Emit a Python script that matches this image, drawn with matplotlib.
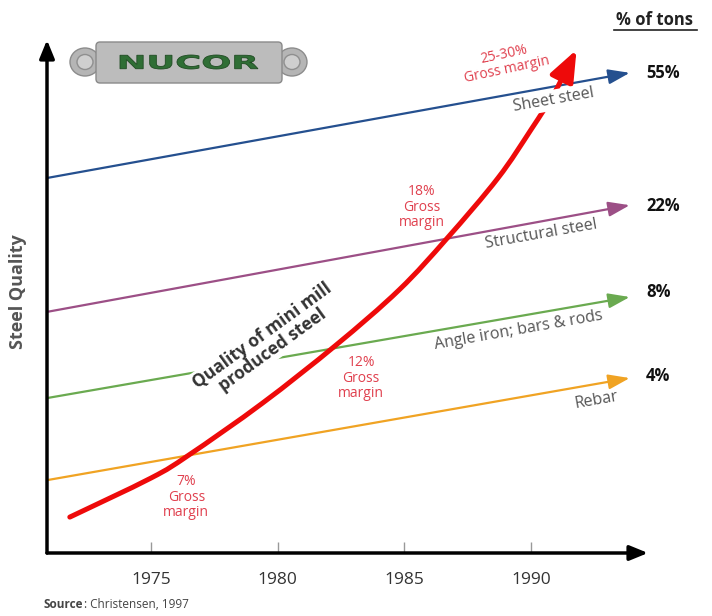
import numpy as np
import matplotlib
matplotlib.use("Agg")
import matplotlib.pyplot as plt
from matplotlib.patches import FancyBboxPatch, Ellipse, PathPatch
from matplotlib.path import Path
from matplotlib.textpath import TextPath
from matplotlib.font_manager import FontProperties
from matplotlib.transforms import Affine2D

plt.rcParams['font.family'] = ['Open Sans', 'DejaVu Sans']

# ---------------------------------------------------------------
# data
# ---------------------------------------------------------------
years = [1975, 1980, 1985, 1990]

segments = ["Sheet steel", "Structural steel", "Angle iron; bars & rods", "Rebar"]
share = ["55%", "22%", "8%", "4%"]
seg_colors = ["#25508f", "#9c4f86", "#6aaa50", "#f0a323"]
# quality of integrated-mill segment at start / end of period
seg_x = [1970.9, 1993.9]
seg_start = [73.1, 47.0, 30.2, 14.2]
seg_end = [93.6, 67.8, 49.9, 34.1]

# mini mill quality trajectory
mini_x = [1971.8, 1975.0, 1976.5, 1979.4, 1982.3, 1984.8, 1986.7, 1988.7, 1990.0, 1991.0, 1991.8]
mini_q = [7.0, 14.6, 19.1, 29.2, 40.5, 51.3, 61.4, 73.1, 82.5, 90.3, 98.1]

margins = ["7%\nGross\nmargin", "12%\nGross\nmargin", "18%\nGross\nmargin", "25-30%\nGross margin"]
margin_pos = [(1976.4, 10.9), (1983.3, 34.1), (1985.7, 67.4), (1989.0, 95.7)]
margin_rot = [0, 0, 0, 12]

seg_label_pos = [(1990.9, 88.3), (1990.4, 62.2), (1989.5, 43.5), (1992.6, 29.8)]


def smooth_path(xs, ys):
    """Catmull-Rom curve through the points, as cubic Bezier segments."""
    pts = np.column_stack([xs, ys])
    ext = np.vstack([pts[0], pts, pts[-1]])
    verts = [pts[0]]
    codes = [Path.MOVETO]
    for i in range(1, len(ext) - 2):
        p0, p1, p2, p3 = ext[i - 1], ext[i], ext[i + 1], ext[i + 2]
        verts += [p1 + (p2 - p0) / 6, p2 - (p3 - p1) / 6, p2]
        codes += [Path.CURVE4] * 3
    return Path(verts, codes)


# ---------------------------------------------------------------
W, H = 712, 616
fig = plt.figure(figsize=(W / 100, H / 100), dpi=100)
ax = fig.add_axes([47 / W, 1 - 553 / H, (648 - 47) / W, (553 - 40) / H])
ax.set_xlim(1970.9, 1994.62)
ax.set_ylim(0, 100)
for s in ax.spines.values():
    s.set_visible(False)
ax.set_yticks([])
ax.set_xticks(years)
ax.set_xticklabels([str(y) for y in years], color="#333333", fontsize=12.5,
                   family=['Liberation Sans Narrow', 'Open Sans'])
ax.tick_params(axis='x', direction='in', length=8, width=1, color="#999999", pad=14)

# axes drawn as arrows
ax.annotate("", xy=(1994.62, 0), xytext=(1970.9, 0), annotation_clip=False,
            arrowprops=dict(arrowstyle="-|>,head_length=1.1,head_width=0.45",
                            color="black", lw=2.5, shrinkA=0, shrinkB=0))
ax.annotate("", xy=(1970.9, 100), xytext=(1970.9, 0), annotation_clip=False,
            arrowprops=dict(arrowstyle="-|>,head_length=1.1,head_width=0.45",
                            color="black", lw=2.5, shrinkA=0, shrinkB=0))

# segment lines
for i in range(4):
    ax.annotate("", xy=(seg_x[1], seg_end[i]), xytext=(seg_x[0], seg_start[i]),
                arrowprops=dict(arrowstyle="-|>,head_length=1.3,head_width=0.45",
                                color=seg_colors[i], lw=1.6, shrinkA=0, shrinkB=0),
                zorder=2)
    ax.text(*seg_label_pos[i], segments[i], color="#555555", fontsize=11.5,
            rotation=10, ha="center", va="center", zorder=5,
            bbox=dict(boxstyle="square,pad=0.15", fc="white", ec="none") if i == 0 else None)

# mini mill curve
curve = smooth_path(mini_x, mini_q)
n_keep = 1 + 3 * (len(mini_x) - 2)
body_path = Path(curve.vertices[:n_keep], curve.codes[:n_keep])
ax.add_patch(PathPatch(body_path, fc="none", ec="#ee0a0a", lw=3.6,
                       capstyle="round", joinstyle="round", zorder=3))
ax.annotate("", xy=(mini_x[-1], mini_q[-1]), xytext=(mini_x[-2], mini_q[-2]),
            arrowprops=dict(arrowstyle="-|>,head_length=1.9,head_width=0.75",
                            color="#ee0a0a", lw=3.6, shrinkA=0, shrinkB=0), zorder=3)

for txt, (x, y), r in zip(margins, margin_pos, margin_rot):
    ax.text(x, y, txt, color="#e0404e", fontsize=10, ha="center", va="center",
            rotation=r, linespacing=1.05, zorder=6)

ax.text(1979.6, 41.0, "Quality of mini mill\nproduced steel", color="#333333",
        fontsize=12.5, fontweight="bold", rotation=36, ha="center", va="center",
        linespacing=1.0, zorder=6,
        bbox=dict(boxstyle="square,pad=0.1", fc="white", ec="none"))

# ---------------------------------------------------------------
# overlay in pixel coordinates for labels and logo
# ---------------------------------------------------------------
ov = fig.add_axes([0, 0, 1, 1], zorder=10)
ov.set_xlim(0, W)
ov.set_ylim(H, 0)
ov.axis("off")
ov.patch.set_visible(False)

ov.text(18, 292, "Steel Quality", rotation=90, ha="center", va="center",
        fontsize=13, fontweight="bold", color="#555555")
ov.text(655, 20, "% of tons", ha="center", va="center", fontsize=12,
        fontweight="bold", color="#222222")
ov.plot([614, 697], [30, 30], color="#222222", lw=1.2)
for p, y in zip(share, [73, 206, 292, 376]):
    ov.text(646, y, p, ha="left", va="center", fontsize=12, fontweight="bold",
            color="#111111")

src = ov.text(44, 604, "Source", ha="left", va="center", fontsize=8.5,
              fontweight="bold", color="#444444")
ov.annotate(": Christensen, 1997", xy=(1, 0.5), xycoords=src, ha="left",
            va="center", fontsize=8.5, color="#444444")

# logo plaque
for cx in (85, 292):
    ov.add_patch(Ellipse((cx, 62), 30, 28, fc="#b5b5b5", ec="#8c8c8c", lw=1))
body = FancyBboxPatch((96, 42), 186, 41, boxstyle="round,pad=0,rounding_size=4",
                      fc="#bcbcbc", ec="#8a8a8a", lw=1)
ov.add_patch(body)
grad = np.linspace(0, 1, 60).reshape(-1, 1)
grad = 0.88 - 0.22 * grad
im = ov.imshow(grad, extent=(96, 282, 83, 42), cmap="gray", vmin=0, vmax=1,
               aspect="auto", interpolation="bilinear")
im.set_clip_path(body)
for cx in (85, 292):
    ov.add_patch(Ellipse((cx, 62), 16, 15, fc="#cfcfcf", ec="#8f8f8f", lw=1, zorder=3))
ov.set_xlim(0, W)
ov.set_ylim(H, 0)

tp = TextPath((0, 0), "NUCOR", size=10, prop=FontProperties(family="DejaVu Sans", weight="bold"))
ext = tp.get_extents()
sx = (258 - 120) / ext.width
sy = 14 / ext.height
tr = Affine2D().translate(-ext.x0, -ext.y0).scale(sx, -sy).translate(120, 69) + ov.transData
ov.add_patch(PathPatch(tp, fc="#2f6e35", ec="#1f4a22", lw=0.6, transform=tr, zorder=4))

fig.savefig("out.png", dpi=100, facecolor="white")
